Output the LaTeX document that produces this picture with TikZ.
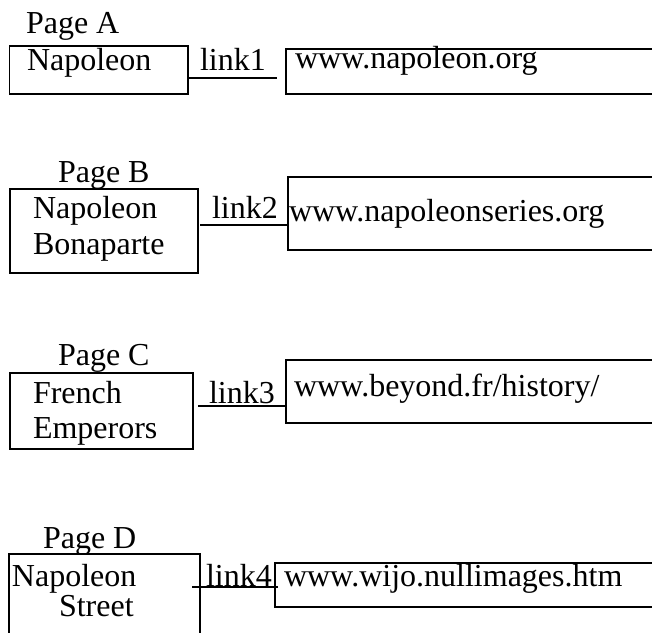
\documentclass[tikz,border=0pt]{standalone}
\usepackage{fontspec}
\setmainfont{Liberation Serif}
\begin{document}
\begin{tikzpicture}[x=1pt,y=-1pt,
  txt/.style={anchor=base west, inner sep=0pt, outer sep=0pt, font=\fontsize{32}{32}\selectfont},
  box/.style={draw, line width=1.5pt, anchor=north west, inner sep=0pt, outer sep=0pt},
  link/.style={draw, line width=1.5pt}]
\clip (0,0) rectangle (652,632);
% ---------- Page A ----------
\node[txt] (tA) at (26,33) {Page A};
\node[box, minimum width=178.5pt, minimum height=48pt] (lA) at (9.5,46) {};
\node[box, minimum width=400pt, minimum height=45pt] (rA) at (286,49) {};
\node[txt] (nA) at (27,70) {Napoleon};
\node[txt] (kA) at (200,70) {link1};
\node[txt] (uA) at (295,68) {www.napoleon.org};
\coordinate (a1) at (188,78);
\coordinate (a2) at (277,78);
\draw[link] (a1) -- (a2);
% ---------- Page B ----------
\node[txt] (tB) at (58,182) {Page B};
\node[box, minimum width=188pt, minimum height=84pt] (lB) at (10,189) {};
\node[box, minimum width=400pt, minimum height=73pt] (rB) at (288,177) {};
\node[txt] (nB1) at (33,218) {Napoleon};
\node[txt] (nB2) at (33,254) {Bonaparte};
\node[txt] (kB) at (212,218) {link2};
\node[txt] (uB) at (289,221) {www.napoleonseries.org};
\coordinate (b1) at (200,225);
\coordinate (b2) at (288,225);
\draw[link] (b1) -- (b2);
% ---------- Page C ----------
\node[txt] (tC) at (58,365) {Page C};
\node[box, minimum width=183pt, minimum height=76pt] (lC) at (10,373) {};
\node[box, minimum width=400pt, minimum height=63pt] (rC) at (286,360) {};
\node[txt] (nC1) at (33,403) {French};
\node[txt] (nC2) at (33,438) {Emperors};
\node[txt] (kC) at (209,403) {link3};
\node[txt] (uC) at (294,396) {www.beyond.fr/history/};
\coordinate (c1) at (198,406);
\coordinate (c2) at (285,406);
\draw[link] (c1) -- (c2);
% ---------- Page D ----------
\node[txt] (tD) at (43,548) {Page D};
\node[box, minimum width=191pt, minimum height=100pt] (lD) at (9,554) {};
\node[box, minimum width=400pt, minimum height=44pt] (rD) at (275,563) {};
\node[txt] (nD1) at (12,586) {Napoleon};
\node[txt] (nD2) at (59,616) {Street};
\node[txt] (kD) at (206,586) {link4};
\node[txt] (uD) at (284,586) {www.wijo.nullimages.htm};
\coordinate (d1) at (192,587);
\coordinate (d2) at (278,587);
\draw[link] (d1) -- (d2);
\end{tikzpicture}
\end{document}
